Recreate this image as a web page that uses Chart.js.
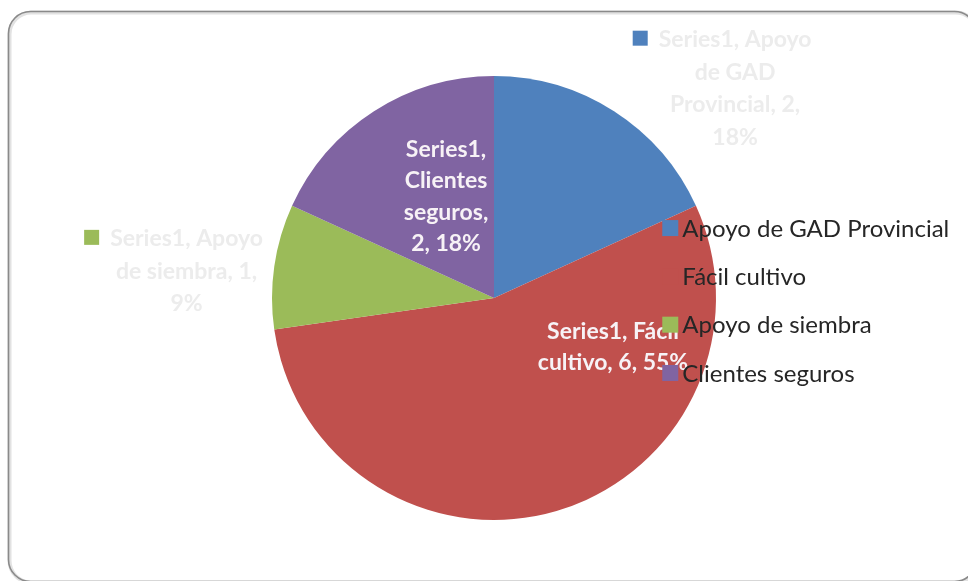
<!DOCTYPE html>
<html>
<head>
<meta charset="utf-8">
<script src="https://cdn.jsdelivr.net/npm/chart.js@4.4.1/dist/chart.umd.min.js"></script>
<style>
  html, body { margin: 0; padding: 0; background: #ffffff; }
  canvas { display: block; }
</style>
</head>
<body>
<canvas id="pieChart" width="968" height="581"></canvas>
<script>
const seriesName = 'Series1';
const categories = ['Apoyo de GAD Provincial', 'Fácil cultivo', 'Apoyo de siembra', 'Clientes seguros'];
const values = [2, 6, 1, 2];
const sliceColors = ['#4f81bd', '#c0504d', '#9bbb59', '#8064a2'];

// where each data label goes, in units of the pie radius from its centre
const labelSpots = [
    { dx: 1.086, dy: -0.944, wrap: 175, inside: false },
    { dx: 0.536, dy: 0.221, wrap: 170, inside: true },
    { dx: -1.385, dy: -0.12, wrap: 175, inside: false },
    { dx: -0.216, dy: -0.457, wrap: 100, inside: true }
];

const total = values.reduce((a, b) => a + b, 0);

function wrapText(ctx, text, maxWidth) {
    const words = text.split(' ');
    const lines = [];
    let line = words[0];
    for (let i = 1; i < words.length; i++) {
        const test = line + ' ' + words[i];
        if (ctx.measureText(test).width > maxWidth) {
            lines.push(line);
            line = words[i];
        } else {
            line = test;
        }
    }
    lines.push(line);
    return lines;
}

// rounded frame around the whole chart
const framePlugin = {
    id: 'frame',
    beforeDraw(chart) {
        const ctx = chart.ctx;
        ctx.save();
        ctx.fillStyle = '#ffffff';
        ctx.fillRect(0, 0, chart.width, chart.height);
        ctx.beginPath();
        ctx.roundRect(9.5, 12.5, 968, 570, 22);
        ctx.strokeStyle = '#e2e2e2';
        ctx.lineWidth = 4;
        ctx.stroke();
        ctx.beginPath();
        ctx.roundRect(8.5, 11.5, 968, 570, 22);
        ctx.strokeStyle = '#8a8a8a';
        ctx.lineWidth = 1.6;
        ctx.stroke();
        ctx.restore();
    }
};

// data labels: "Series1, category, value, percent"
const sliceLabelPlugin = {
    id: 'sliceLabels',
    afterDatasetsDraw(chart) {
        const ctx = chart.ctx;
        const arcs = chart.getDatasetMeta(0).data;
        ctx.save();
        ctx.textAlign = 'center';
        ctx.textBaseline = 'middle';
        arcs.forEach((arc, i) => {
            const spot = labelSpots[i];
            const r = arc.outerRadius;
            const cx = arc.x + spot.dx * r;
            const cy = arc.y + spot.dy * r;
            const pct = Math.round(values[i] / total * 100);
            const text = `${seriesName}, ${categories[i]}, ${values[i]}, ${pct}%`;
            ctx.font = 'bold 23px Lato';
            const lines = wrapText(ctx, text, spot.wrap);
            const lineH = spot.inside ? 31.5 : 32.5;
            const top = cy - (lines.length - 1) * lineH / 2;
            ctx.fillStyle = spot.inside ? '#f7f2f6' : '#ececec';
            lines.forEach((ln, k) => ctx.fillText(ln, cx, top + k * lineH));
            if (!spot.inside) {
                // legend key shown beside outside labels
                const w = ctx.measureText(lines[0]).width;
                ctx.fillStyle = sliceColors[i];
                ctx.fillRect(cx - w / 2 - 26, top - 9, 15, 15);
            }
        });
        ctx.restore();
    }
};

// legend drawn over the right side of the pie
const legendPlugin = {
    id: 'overlayLegend',
    afterDraw(chart) {
        const ctx = chart.ctx;
        const arc = chart.getDatasetMeta(0).data[0];
        const x0 = arc.x + 0.758 * arc.outerRadius;
        const y0 = arc.y - 0.315 * arc.outerRadius;
        const step = 48.3;
        ctx.save();
        ctx.font = '24px Lato';
        ctx.textBaseline = 'middle';
        ctx.textAlign = 'left';
        categories.forEach((name, i) => {
            const y = y0 + i * step;
            ctx.fillStyle = sliceColors[i];
            ctx.fillRect(x0, y - 8, 16, 16);
            ctx.fillStyle = '#262626';
            ctx.fillText(name, x0 + 20, y + 1);
        });
        ctx.restore();
    }
};

new Chart(document.getElementById('pieChart'), {
    type: 'pie',
    data: {
        labels: categories,
        datasets: [{
            label: seriesName,
            data: values,
            backgroundColor: sliceColors,
            borderWidth: 0
        }]
    },
    options: {
        responsive: false,
        animation: false,
        devicePixelRatio: 1,
        layout: {
            padding: { left: 272, right: 252, top: 76, bottom: 61 }
        },
        plugins: {
            legend: { display: false },
            tooltip: { enabled: false }
        }
    },
    plugins: [framePlugin, sliceLabelPlugin, legendPlugin]
});
</script>
</body>
</html>
